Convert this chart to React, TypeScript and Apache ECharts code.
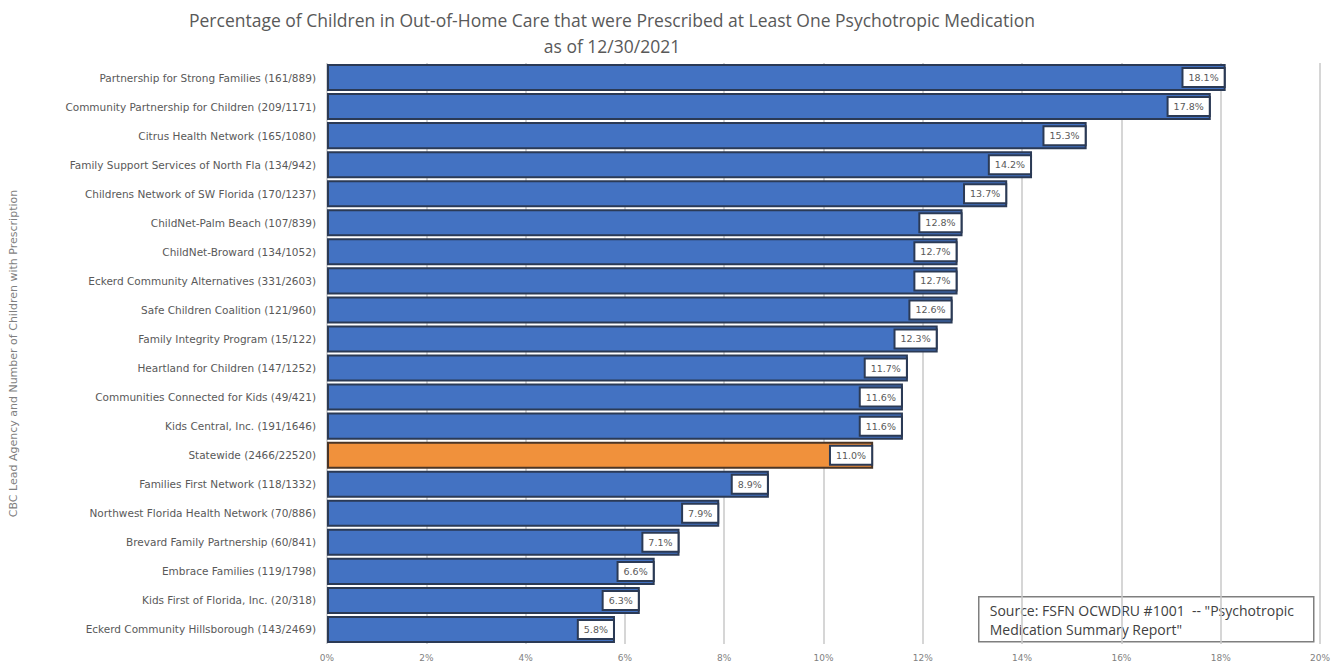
import React, { useEffect, useRef } from "react";
import * as echarts from "echarts";

const categories = [
  "Partnership for Strong Families (161/889)",
  "Community Partnership for Children (209/1171)",
  "Citrus Health Network (165/1080)",
  "Family Support Services of North Fla (134/942)",
  "Childrens Network of SW Florida (170/1237)",
  "ChildNet-Palm Beach (107/839)",
  "ChildNet-Broward (134/1052)",
  "Eckerd Community Alternatives (331/2603)",
  "Safe Children Coalition (121/960)",
  "Family Integrity Program (15/122)",
  "Heartland for Children (147/1252)",
  "Communities Connected for Kids (49/421)",
  "Kids Central, Inc. (191/1646)",
  "Statewide (2466/22520)",
  "Families First Network (118/1332)",
  "Northwest Florida Health Network (70/886)",
  "Brevard Family Partnership (60/841)",
  "Embrace Families (119/1798)",
  "Kids First of Florida, Inc. (20/318)",
  "Eckerd Community Hillsborough (143/2469)",
];

const values = [18.1, 17.8, 15.3, 14.2, 13.7, 12.8, 12.7, 12.7, 12.6, 12.3, 11.7, 11.6, 11.6, 11.0, 8.9, 7.9, 7.1, 6.6, 6.3, 5.8];

const highlight = "Statewide (2466/22520)";

const titleLines = [
  "Percentage of Children in Out-of-Home Care that were Prescribed at Least One Psychotropic Medication",
  "as of 12/30/2021",
];
const yAxisTitle = "CBC Lead Agency and Number of Children with Prescription";
const sourceText = 'Source: FSFN OCWDRU #1001  -- "Psychotropic\nMedication Summary Report"';

export default function App() {
  const ref = useRef<HTMLDivElement>(null);
  useEffect(() => {
    if (!ref.current) return;
    const chart = echarts.init(ref.current, undefined, { renderer: "svg" });
    const font = "'Open Sans', 'Noto Sans', sans-serif";
    const wide = "'DejaVu Sans', sans-serif";
    chart.setOption({
      animation: false,
      backgroundColor: "#ffffff",
      textStyle: { fontFamily: font },
      title: {
        text: titleLines.join("\n"),
        left: 607,
        top: 2,
        textAlign: "center",
        textStyle: { fontSize: 17.5, fontWeight: "normal", color: "#595959", lineHeight: 26, fontFamily: font },
      },
      grid: { left: 325, right: 20, top: 63, bottom: 25, containLabel: false },
      xAxis: {
        type: "value",
        min: 0,
        max: 20,
        interval: 2,
        axisLabel: { formatter: "{value}%", color: "#7f7f7f", fontSize: 9, margin: 9, fontFamily: wide },
        axisLine: { show: false },
        axisTick: { show: false },
        splitLine: { show: true, lineStyle: { color: "#c9c9c9", width: 1.5 } },
      },
      yAxis: {
        type: "category",
        data: categories,
        inverse: true,
        name: yAxisTitle,
        nameLocation: "middle",
        nameGap: 308,
        nameRotate: 90,
        nameTextStyle: { color: "#7f7f7f", fontSize: 11, fontFamily: wide },
        axisLine: { show: false },
        axisTick: { show: false },
        axisLabel: { color: "#595959", fontSize: 10.5, margin: 11, fontFamily: wide },
      },
      series: [
        {
          type: "bar",
          barCategoryGap: "7%",
          data: values.map((v, i) => ({
            value: v,
            itemStyle:
              categories[i] === highlight
                ? { color: "#f0913c", borderColor: "#4a3526", borderWidth: 2 }
                : { color: "#4372c2", borderColor: "#2b3a55", borderWidth: 2 },
          })),
          label: {
            show: true,
            position: "insideRight",
            distance: 2,
            formatter: (p: any) => p.value.toFixed(1) + "%",
            color: "#595959",
            fontSize: 9.5,
            fontFamily: wide,
            backgroundColor: "#ffffff",
            borderColor: "#2b3a55",
            borderWidth: 2,
            padding: [4, 5, 3, 5],
          },
        },
      ],
      graphic: [
        {
          type: "group",
          left: 978,
          top: 596,
          children: [
            {
              type: "rect",
              shape: { x: 0, y: 0, width: 335, height: 45 },
              style: { fill: "#ffffff", stroke: "#7f7f7f", lineWidth: 1.5 },
            },
            {
              type: "text",
              x: 11,
              y: 4,
              style: { text: sourceText, fill: "#404040", fontSize: 14, lineHeight: 19, fontFamily: font },
            },
          ],
        },
      ],
    });
    return () => chart.dispose();
  }, []);
  return <div ref={ref} style={{ width: 1340, height: 669, position: "absolute", left: 0, top: 0 }} />;
}
